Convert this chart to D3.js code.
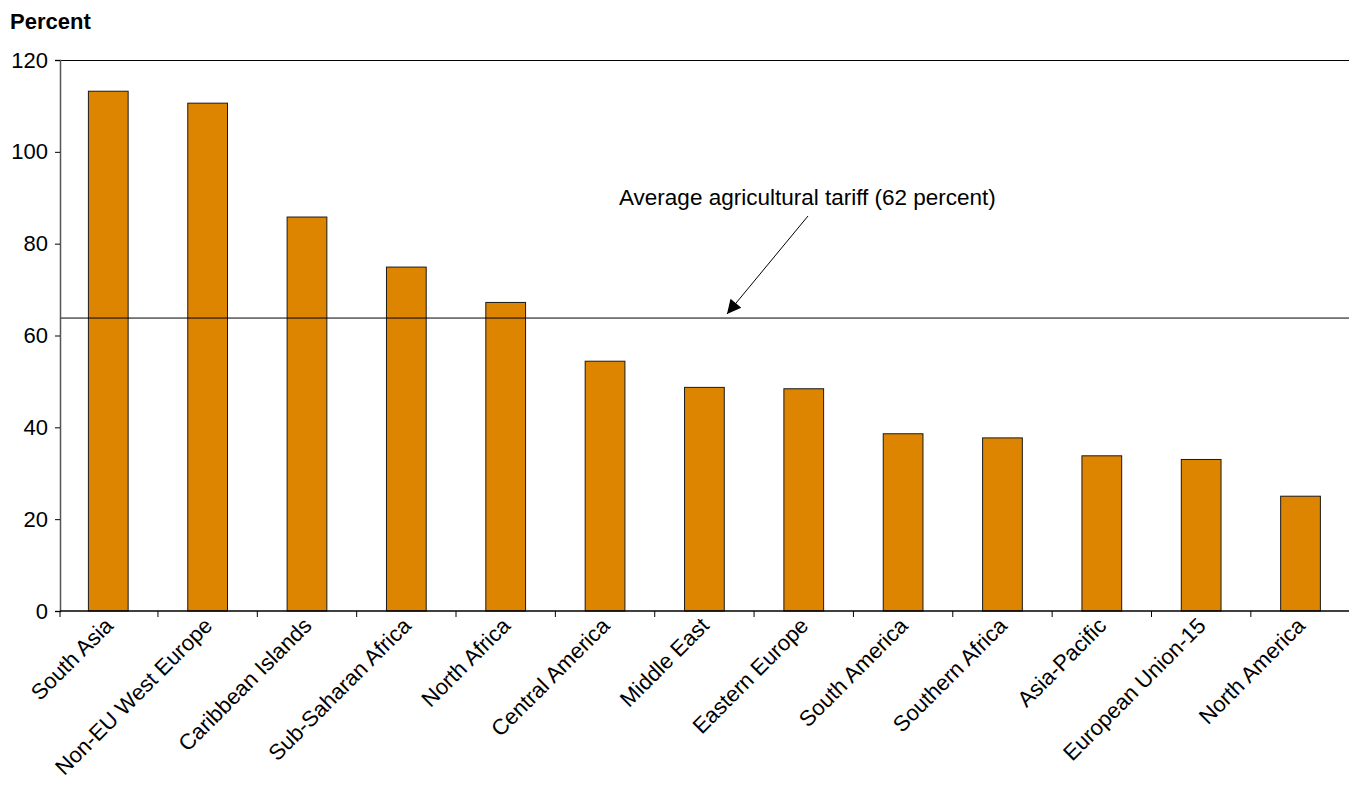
<!DOCTYPE html>
<html><head><meta charset="utf-8">
<script src="https://cdn.jsdelivr.net/npm/d3@7"></script>
<style>body{margin:0;background:#fff}svg{display:block}text{font-family:"Liberation Sans",Arial,sans-serif}</style>
</head><body><svg id="c" width="1349" height="785"></svg>
<script>
const categories = ["South Asia","Non-EU West Europe","Caribbean Islands","Sub-Saharan Africa","North Africa","Central America","Middle East","Eastern Europe","South America","Southern Africa","Asia-Pacific","European Union-15","North America"];
const values = [113.2,110.6,85.8,74.9,67.2,54.4,48.7,48.4,38.6,37.7,33.8,33.0,25.0];
const yTicks = [0,20,40,60,80,100,120];
const averageLine = 63.8;
const annotation = "Average agricultural tariff (62 percent)";
const yTitle = "Percent";

const svg = d3.select("#c");
const m = {l:60, t:60, b:611};
const W = 1349;
const x = d3.scaleBand().domain(categories).range([58.6, 1350.2]).paddingInner(0.6).paddingOuter(0.3);
const y = d3.scaleLinear().domain([0,120]).range([m.b, m.t]);

// top border
svg.append("line").attr("x1",m.l).attr("x2",W).attr("y1",m.t+0.5).attr("y2",m.t+0.5).attr("stroke","#000").attr("stroke-width",1.2);

// bars
svg.selectAll("rect.bar").data(values).join("rect")
  .attr("x",(d,i)=>x(categories[i]))
  .attr("y",d=>y(d))
  .attr("width",x.bandwidth())
  .attr("height",d=>y(0)-y(d))
  .attr("fill","#DD8500").attr("stroke","#1a1a1a").attr("stroke-width",1);

// average line
svg.append("line").attr("x1",m.l).attr("x2",W).attr("y1",y(averageLine)).attr("y2",y(averageLine)).attr("stroke","#000").attr("stroke-width",1);

// y axis
const ya = svg.append("g").attr("transform",`translate(${m.l},0)`)
  .call(d3.axisLeft(y).tickValues(yTicks).tickSize(5).tickPadding(7));
ya.select(".domain").attr("stroke","#555").attr("stroke-width",1.5);
ya.selectAll(".tick line").attr("stroke","#000");
ya.selectAll("text").attr("font-size",22).attr("fill","#000");

// x axis: ticks between categories
const step = x.step();
const xa = svg.append("g").attr("transform",`translate(0,${m.b})`);
xa.append("line").attr("x1",m.l).attr("x2",W).attr("stroke","#000").attr("stroke-width",1.5);
const bounds = [m.l].concat(d3.range(1,categories.length).map(i => x(categories[i]) - (step - x.bandwidth())/2));
xa.selectAll("line.t").data(bounds).join("line").attr("class","t")
  .attr("x1",d=>d).attr("x2",d=>d).attr("y1",0).attr("y2",6).attr("stroke","#000");
xa.selectAll("text").data(categories).join("text")
  .attr("transform",d=>`translate(${x(d)+x.bandwidth()/2+6},${16}) rotate(-45)`)
  .attr("text-anchor","end").attr("font-size",22).attr("fill","#000")
  .text(d=>d);

// title
svg.append("text").attr("x",10).attr("y",29).attr("font-size",22).attr("font-weight","bold").text(yTitle);

// annotation
svg.append("text").attr("x",619).attr("y",205).attr("font-size",22.5).text(annotation);
svg.append("defs").append("marker").attr("id","ah").attr("viewBox","0 0 10 10").attr("refX",10).attr("refY",5)
  .attr("markerWidth",20).attr("markerHeight",14).attr("markerUnits","userSpaceOnUse").attr("orient","auto")
  .append("path").attr("d","M0,0L10,5L0,10Z").attr("fill","#000");
svg.append("line").attr("x1",808).attr("y1",216).attr("x2",727).attr("y2",314)
  .attr("stroke","#000").attr("stroke-width",1).attr("marker-end","url(#ah)");
</script></body></html>
